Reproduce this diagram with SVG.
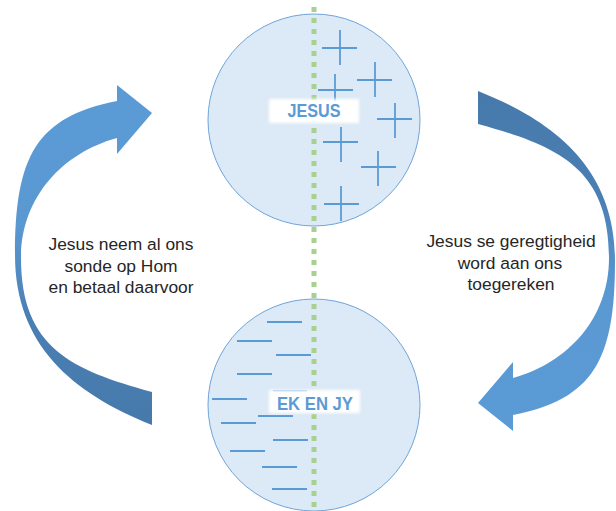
<svg xmlns="http://www.w3.org/2000/svg" width="616" height="511" viewBox="0 0 616 511">
<defs>
  <linearGradient id="arrowGrad" x1="0" y1="0" x2="0" y2="1">
    <stop offset="0" stop-color="#5b9bd5"/>
    <stop offset="0.42" stop-color="#5a98d2"/>
    <stop offset="0.68" stop-color="#4a7fb4"/>
    <stop offset="1" stop-color="#477aab"/>
  </linearGradient>
  <filter id="soft" x="-20%" y="-50%" width="140%" height="200%">
    <feGaussianBlur stdDeviation="1.6"/>
  </filter>
  <path id="curvedArrow" d="M152,425 C72,393 15,345 15,255 C15,155 37,117 117,101 L117,85 L152,113 L117,154 L117,138 C62,153 21,198 21,258 C21,348 72,370 152,392 Z"/>
</defs>
<style>
  .disc { fill: #dce9f6; stroke: #6fa5da; stroke-width: 1; }
  .mark { stroke: #5b9bd5; stroke-width: 1.8; fill: none; }
  .lblbox { fill: #ffffff; filter: url(#soft); }
  .lbl { font-family: "Liberation Sans", Arial, sans-serif; font-weight: bold; font-size: 18px; fill: #5b9bd5; text-anchor: middle; }
  .cap { font-family: "Liberation Sans", Arial, sans-serif; font-size: 17.4px; fill: #262626; text-anchor: middle; }
</style>
<rect width="616" height="511" fill="#ffffff"/>

<g id="node-jesus">
  <circle class="disc" cx="314" cy="120" r="106"/>
  <g class="mark">
    <path d="M322,48 H357 M340,30 V65"/>
    <path d="M357,80 H392 M375,62 V97"/>
    <path d="M318,90 H353 M335,74 V108"/>
    <path d="M377,119 H412 M395,103 V138"/>
    <path d="M323,142 H358 M341,127 V162"/>
    <path d="M361,167 H396 M378,151 V186"/>
    <path d="M324,204 H359 M341,186 V221"/>
  </g>
</g>

<g id="node-ek-en-jy">
  <circle class="disc" cx="314" cy="405" r="106"/>
  <g class="mark">
    <path d="M267,322 H302"/>
    <path d="M237,341 H272"/>
    <path d="M276,355 H311"/>
    <path d="M237,374 H272"/>
    <path d="M273,391 H307"/>
    <path d="M212,399 H247"/>
    <path d="M258,416 H293"/>
    <path d="M221,423 H256"/>
    <path d="M273,440 H308"/>
    <path d="M230,451 H265"/>
    <path d="M262,467 H297"/>
    <path d="M272,489 H307"/>
  </g>
</g>

<g id="divider">
  <line x1="314" y1="6" x2="314" y2="511" stroke="#a9d18e" stroke-width="5" stroke-dasharray="5 6" stroke-dashoffset="-1"/>
</g>

<g id="label-jesus">
  <rect class="lblbox" x="269" y="99" width="90" height="24"/>
  <text class="lbl" x="314" y="117" textLength="53" lengthAdjust="spacingAndGlyphs">JESUS</text>
</g>

<g id="label-ek-en-jy">
  <rect class="lblbox" x="269" y="390" width="91" height="23"/>
  <text class="lbl" x="315" y="410" textLength="76" lengthAdjust="spacingAndGlyphs">EK EN JY</text>
</g>

<g id="connectors">
  <use id="arrow-left" href="#curvedArrow" fill="url(#arrowGrad)"/>
  <use id="arrow-right" href="#curvedArrow" fill="url(#arrowGrad)" transform="rotate(180 315 258)"/>
  <text class="cap" x="121" y="250">Jesus neem al ons</text>
  <text class="cap" x="121" y="271.5">sonde op Hom</text>
  <text class="cap" x="121" y="293">en betaal daarvoor</text>
  <text class="cap" x="511" y="247">Jesus se geregtigheid</text>
  <text class="cap" x="510" y="268.5">word aan ons</text>
  <text class="cap" x="511" y="290">toegereken</text>
</g>
</svg>
